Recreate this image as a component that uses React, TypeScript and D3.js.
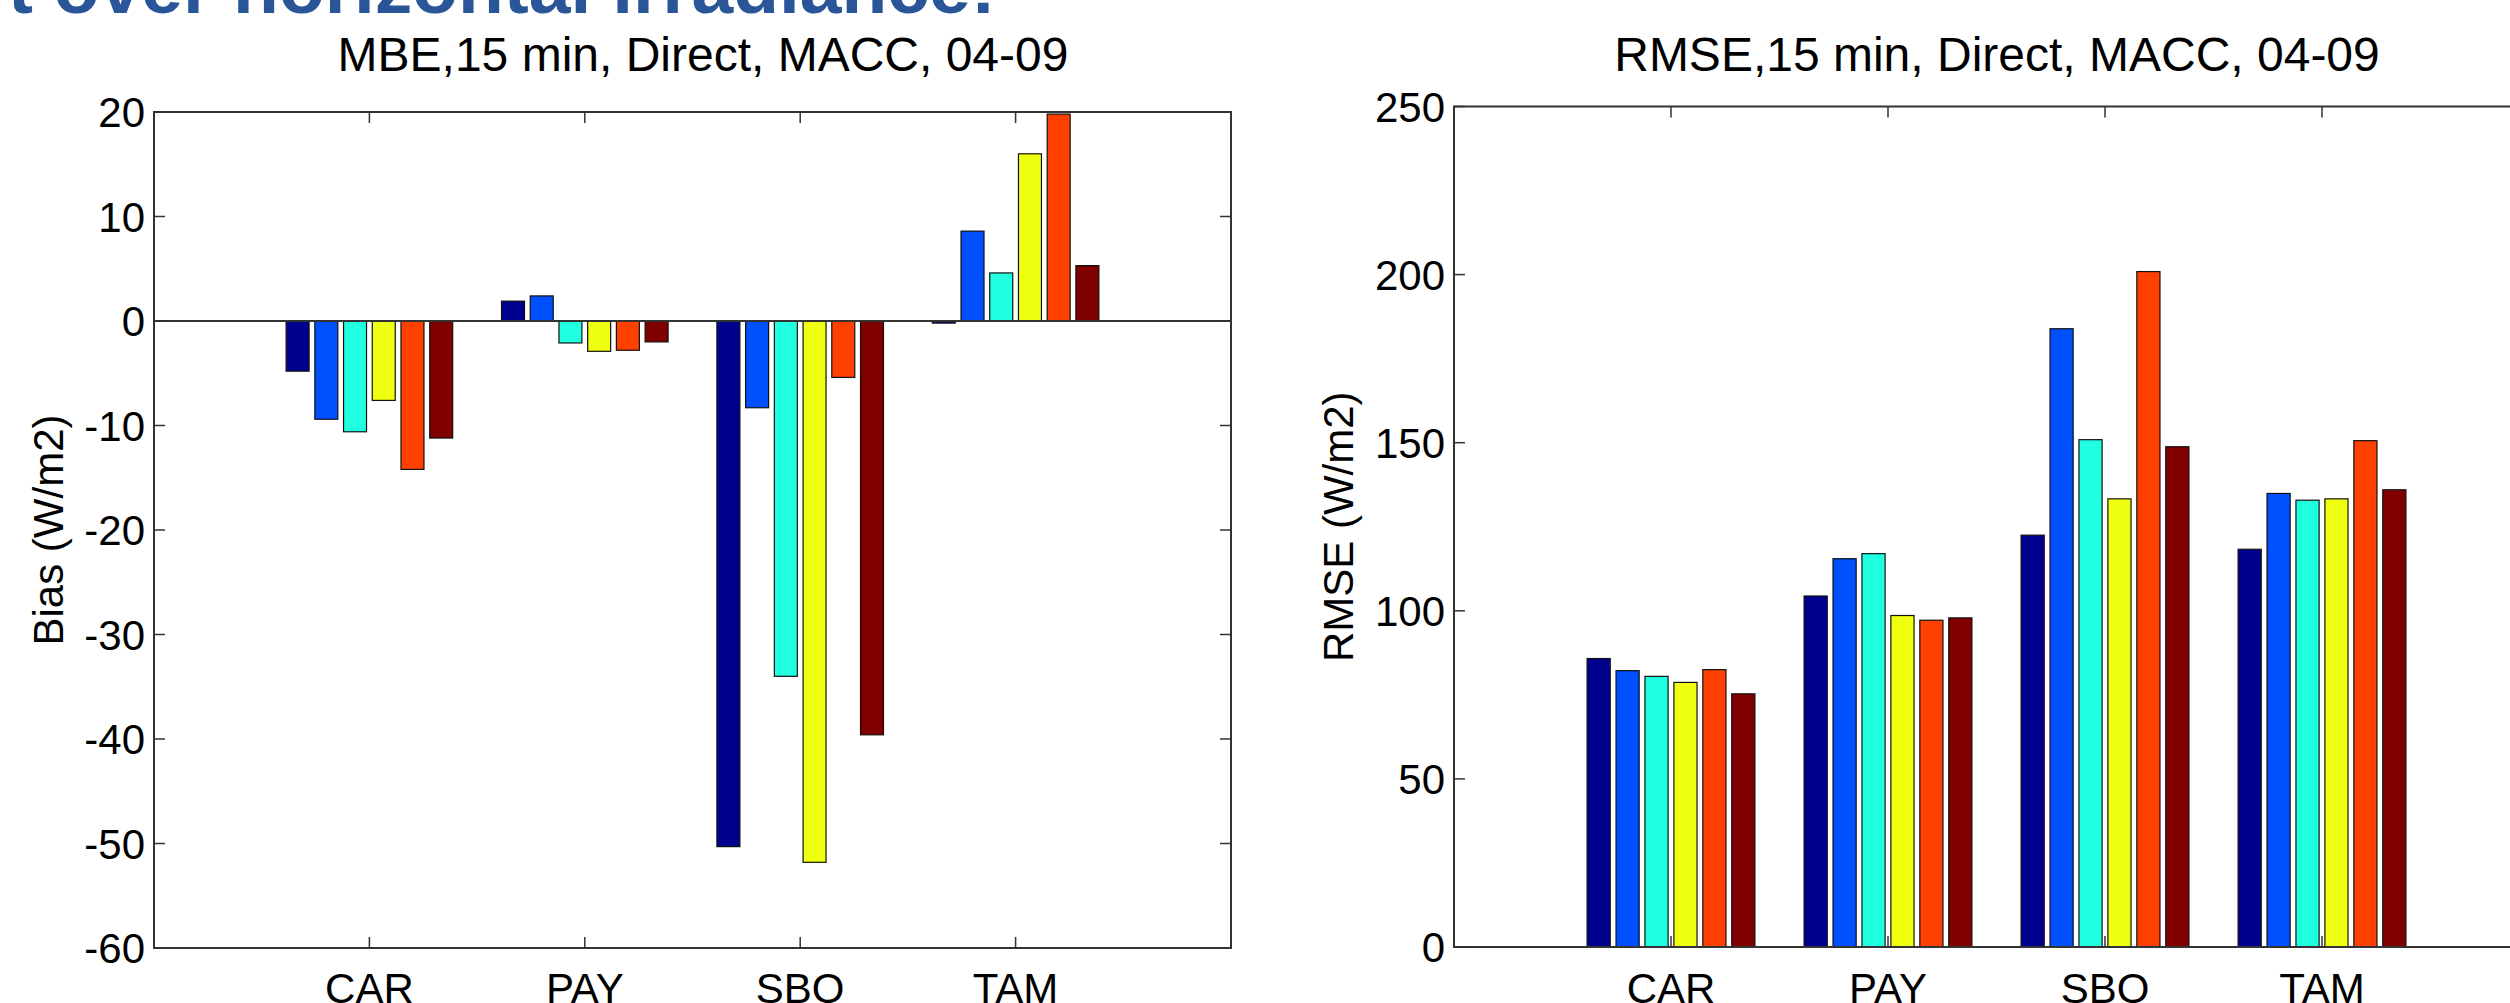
import React, { useEffect } from 'react';
import * as d3 from 'd3';

// stations on the x axis (placed at 1..4, axis runs 0..5)
const categories = ['CAR', 'PAY', 'SBO', 'TAM'];
// jet colormap, one colour per series
const seriesColors = ['#00008F', '#0050FF', '#20FFDF', '#EFFF10', '#FF4000', '#800000'];

// MBE (W/m2), one array per station, six series each
const mbeCAR = [-4.8, -9.4, -10.6, -7.6, -14.2, -11.2];
const mbePAY = [1.9, 2.4, -2.1, -2.9, -2.8, -2.0];
const mbeSBO = [-50.3, -8.3, -34.0, -51.8, -5.4, -39.6];
const mbeTAM = [-0.2, 8.6, 4.6, 16.0, 19.8, 5.3];

// RMSE (W/m2)
const rmseCAR = [85.8, 82.2, 80.5, 78.7, 82.5, 75.3];
const rmsePAY = [104.4, 115.5, 117.0, 98.6, 97.2, 97.9];
const rmseSBO = [122.5, 183.9, 150.9, 133.3, 200.9, 148.8];
const rmseTAM = [118.3, 134.9, 132.9, 133.3, 150.6, 136.0];

const mbeTicks = [20, 10, 0, -10, -20, -30, -40, -50, -60];
const rmseTicks = [0, 50, 100, 150, 200, 250];

const FONT = '"Liberation Sans", Arial, Helvetica, sans-serif';
const AXIS = '#333';
const TICK = 11;

type PanelProps = {
  left: number; right: number; top: number; bottom: number;
  yDomain: [number, number];
  ticks: number[];
  rows: number[][];
  title: string; titleX: number;
  ylabel: string; ylabelX: number;
  zeroLine?: boolean;
};

const Panel = ({ left, right, top, bottom, yDomain, ticks, rows, title, titleX, ylabel, ylabelX, zeroLine }: PanelProps) => {
  const x = d3.scaleLinear().domain([0, 5]).range([left, right]);
  const y = d3.scaleLinear().domain(yDomain).range([bottom, top]);
  // bars inside a group, MATLAB style: 0.8 group width
  const inner = d3.scaleBand<number>()
    .domain(d3.range(seriesColors.length))
    .range([-0.4, 0.4])
    .paddingInner(0.2)
    .paddingOuter(0.1);
  const unit = x(1) - x(0);
  const y0 = y(0);
  const xTicks = categories.map((_, i) => x(i + 1));

  return (
    <g>
      <text x={titleX} y={71} textAnchor="middle" fontSize={48} fontFamily={FONT} fill="#000">{title}</text>
      <text transform={`translate(${ylabelX},${(top + bottom) / 2}) rotate(-90)`} textAnchor="middle"
        fontSize={42} fontFamily={FONT} fill="#000">{ylabel}</text>

      {rows.map((vals, ci) => vals.map((v, si) => {
        const bx = x(ci + 1 + (inner(si) as number));
        const yy = y(v);
        return (
          <rect key={`${ci}-${si}`} x={bx} width={inner.bandwidth() * unit}
            y={Math.min(yy, y0)} height={Math.abs(yy - y0)}
            fill={seriesColors[si]} stroke="#111" strokeWidth={1.2} />
        );
      }))}

      {zeroLine && <line x1={left} x2={right} y1={y0} y2={y0} stroke={AXIS} strokeWidth={2} />}

      <rect x={left} y={top} width={right - left} height={bottom - top} fill="none" stroke={AXIS} strokeWidth={2} />

      {ticks.map(t => (
        <g key={t}>
          <line x1={left} x2={left + TICK} y1={y(t)} y2={y(t)} stroke={AXIS} strokeWidth={1.5} />
          <line x1={right} x2={right - TICK} y1={y(t)} y2={y(t)} stroke={AXIS} strokeWidth={1.5} />
          <text x={left - 9} y={y(t)} dy="0.36em" textAnchor="end" fontSize={42} fontFamily={FONT} fill="#000">{t}</text>
        </g>
      ))}

      {xTicks.map((tx, i) => (
        <g key={categories[i]}>
          <line x1={tx} x2={tx} y1={bottom} y2={bottom - TICK} stroke={AXIS} strokeWidth={1.5} />
          <line x1={tx} x2={tx} y1={top} y2={top + TICK} stroke={AXIS} strokeWidth={1.5} />
          <text x={tx} y={1003} textAnchor="middle" fontSize={42} fontFamily={FONT} fill="#000">{categories[i]}</text>
        </g>
      ))}
    </g>
  );
};

export default function App() {
  useEffect(() => {
    document.body.style.margin = '0';
  }, []);

  return (
    <svg width={2510} height={1003} style={{ position: 'absolute', left: 0, top: 0, background: '#fff' }}>
      <rect width={2510} height={1003} fill="#fff" />
      <text x={8} y={13} fontSize={75} fontWeight="bold" fontFamily={FONT} fill="#2A5699">
        t over horizontal irradiance:
      </text>
      <Panel left={154} right={1231} top={112} bottom={948} yDomain={[-60, 20]} ticks={mbeTicks}
        rows={[mbeCAR, mbePAY, mbeSBO, mbeTAM]}
        title="MBE,15 min, Direct, MACC, 04-09" titleX={703}
        ylabel="Bias (W/m2)" ylabelX={63} zeroLine />
      <Panel left={1454} right={2539} top={106.5} bottom={947} yDomain={[0, 250]} ticks={rmseTicks}
        rows={[rmseCAR, rmsePAY, rmseSBO, rmseTAM]}
        title="RMSE,15 min, Direct, MACC, 04-09" titleX={1997}
        ylabel="RMSE (W/m2)" ylabelX={1353} />
    </svg>
  );
}
